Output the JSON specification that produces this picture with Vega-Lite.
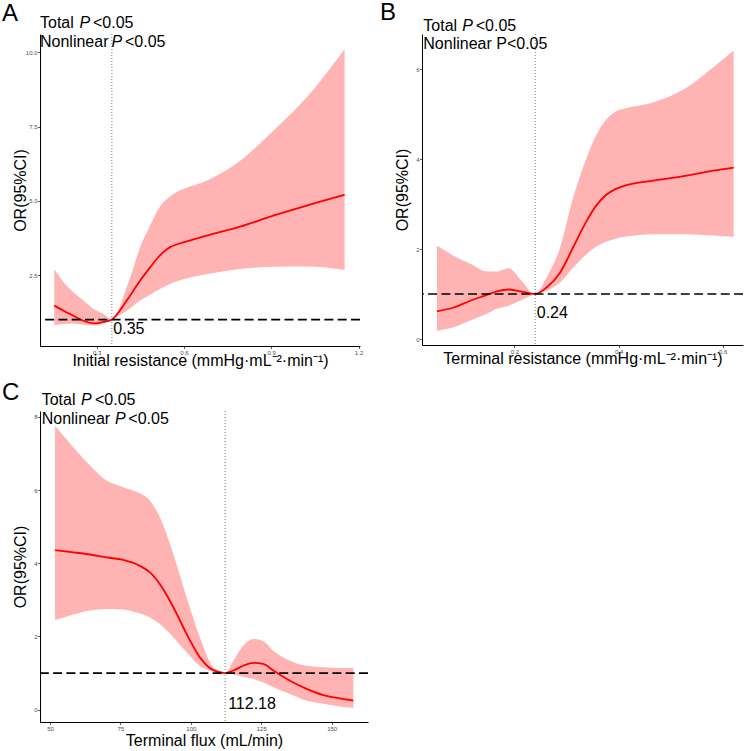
{
  "$schema": "https://vega.github.io/schema/vega-lite/v6.json",
  "padding": {"left": 2, "top": 0, "right": 5, "bottom": 5},
  "config": {
    "font": "Liberation Sans",
    "view": {"stroke": null},
    "axis": {"domainColor": "black", "domainWidth": 1, "tickColor": "#333333", "tickSize": 2.5, "tickWidth": 0.8, "labelFontSize": 6, "labelColor": "#4D4D4D", "labelPadding": 0.5, "grid": false, "titleFontSize": 16, "titleFontWeight": "normal", "titleColor": "black", "labelFont": "Liberation Sans", "titleFont": "Liberation Sans"},
    "axisX": {"titleBaseline": "alphabetic"},
    "axisY": {"titleX": -12, "titleBaseline": "bottom"}
  },
  "datasets": {
    "a": [
      {"x": 0.154, "y": 1.47, "lo": 0.82, "hi": 2.70},
      {"x": 0.186, "y": 1.30, "lo": 0.85, "hi": 2.26},
      {"x": 0.220, "y": 1.13, "lo": 0.87, "hi": 1.92},
      {"x": 0.254, "y": 0.96, "lo": 0.83, "hi": 1.64},
      {"x": 0.2945, "y": 0.87, "lo": 0.80, "hi": 1.32},
      {"x": 0.323, "y": 0.92, "lo": 0.88, "hi": 1.19},
      {"x": 0.352, "y": 1.00, "lo": 1.00, "hi": 1.00},
      {"x": 0.403, "y": 1.64, "lo": 1.30, "hi": 2.09},
      {"x": 0.426, "y": 1.97, "lo": 1.47, "hi": 2.75},
      {"x": 0.449, "y": 2.31, "lo": 1.64, "hi": 3.43},
      {"x": 0.4835, "y": 2.76, "lo": 1.84, "hi": 4.17},
      {"x": 0.506, "y": 3.04, "lo": 1.97, "hi": 4.62},
      {"x": 0.529, "y": 3.27, "lo": 2.09, "hi": 4.95},
      {"x": 0.552, "y": 3.44, "lo": 2.20, "hi": 5.15},
      {"x": 0.575, "y": 3.53, "lo": 2.29, "hi": 5.30},
      {"x": 0.598, "y": 3.60, "lo": 2.36, "hi": 5.40},
      {"x": 0.678, "y": 3.83, "lo": 2.53, "hi": 5.68},
      {"x": 0.793, "y": 4.13, "lo": 2.70, "hi": 6.35},
      {"x": 0.907, "y": 4.50, "lo": 2.78, "hi": 7.36},
      {"x": 1.022, "y": 4.84, "lo": 2.79, "hi": 8.49},
      {"x": 1.152, "y": 5.20, "lo": 2.67, "hi": 10.11}
    ],
    "b": [
      {"x": 0.0512, "y": 0.615, "lo": 0.185, "hi": 2.07},
      {"x": 0.0832, "y": 0.70, "lo": 0.26, "hi": 1.85},
      {"x": 0.1152, "y": 0.85, "lo": 0.41, "hi": 1.67},
      {"x": 0.147, "y": 0.98, "lo": 0.56, "hi": 1.50},
      {"x": 0.166, "y": 1.06, "lo": 0.67, "hi": 1.50},
      {"x": 0.189, "y": 1.10, "lo": 0.74, "hi": 1.57},
      {"x": 0.211, "y": 1.06, "lo": 0.85, "hi": 1.33},
      {"x": 0.240, "y": 1.00, "lo": 1.00, "hi": 1.00},
      {"x": 0.262, "y": 1.15, "lo": 1.07, "hi": 1.37},
      {"x": 0.288, "y": 1.48, "lo": 1.26, "hi": 2.04},
      {"x": 0.313, "y": 2.04, "lo": 1.59, "hi": 3.15},
      {"x": 0.339, "y": 2.63, "lo": 1.89, "hi": 4.04},
      {"x": 0.358, "y": 2.98, "lo": 2.06, "hi": 4.55},
      {"x": 0.376, "y": 3.20, "lo": 2.16, "hi": 4.87},
      {"x": 0.394, "y": 3.33, "lo": 2.23, "hi": 5.05},
      {"x": 0.412, "y": 3.41, "lo": 2.27, "hi": 5.12},
      {"x": 0.467, "y": 3.52, "lo": 2.33, "hi": 5.26},
      {"x": 0.531, "y": 3.63, "lo": 2.33, "hi": 5.59},
      {"x": 0.582, "y": 3.74, "lo": 2.30, "hi": 6.04},
      {"x": 0.621, "y": 3.81, "lo": 2.27, "hi": 6.41}
    ],
    "c": [
      {"x": 51.8, "y": 4.36, "lo": 2.45, "hi": 7.76},
      {"x": 58.3, "y": 4.30, "lo": 2.60, "hi": 7.17},
      {"x": 64.2, "y": 4.24, "lo": 2.71, "hi": 6.67},
      {"x": 70.1, "y": 4.16, "lo": 2.75, "hi": 6.26},
      {"x": 76.0, "y": 4.09, "lo": 2.74, "hi": 6.08},
      {"x": 81.9, "y": 3.93, "lo": 2.63, "hi": 5.91},
      {"x": 85.5, "y": 3.75, "lo": 2.52, "hi": 5.71},
      {"x": 89.0, "y": 3.43, "lo": 2.34, "hi": 5.26},
      {"x": 93.8, "y": 2.80, "lo": 1.98, "hi": 4.25},
      {"x": 98.5, "y": 2.07, "lo": 1.57, "hi": 3.07},
      {"x": 103.2, "y": 1.43, "lo": 1.20, "hi": 1.98},
      {"x": 108.0, "y": 1.08, "lo": 1.04, "hi": 1.16},
      {"x": 112.18, "y": 1.00, "lo": 1.00, "hi": 1.00},
      {"x": 115.1, "y": 1.07, "lo": 0.96, "hi": 1.34},
      {"x": 118.6, "y": 1.20, "lo": 0.90, "hi": 1.75},
      {"x": 122.2, "y": 1.28, "lo": 0.84, "hi": 1.93},
      {"x": 125.7, "y": 1.25, "lo": 0.75, "hi": 1.87},
      {"x": 129.3, "y": 1.07, "lo": 0.61, "hi": 1.61},
      {"x": 135.2, "y": 0.79, "lo": 0.43, "hi": 1.34},
      {"x": 141.1, "y": 0.57, "lo": 0.25, "hi": 1.20},
      {"x": 147.0, "y": 0.40, "lo": 0.16, "hi": 1.16},
      {"x": 152.9, "y": 0.31, "lo": 0.09, "hi": 1.14},
      {"x": 157.7, "y": 0.25, "lo": 0.05, "hi": 1.14}
    ]
  },
  "columns": 2,
  "spacing": {"row": 65, "column": 54},
  "bounds": "flush",
  "concat": [
    {
      "width": 320, "height": 312,
      "layer": [
        {"data": {"name": "a"}, "mark": {"type": "area", "color": "#FFB3B3", "opacity": 1, "interpolate": "monotone"},
         "encoding": {
           "x": {"field": "x", "type": "quantitative", "scale": {"domain": [0.105, 1.205], "nice": false, "zero": false}, "axis": {"values": [0.3, 0.6, 0.9, 1.2], "format": ".1f", "title": "Initial resistance (mmHg·mL⁻²·min⁻¹)", "titleY": 19}},
           "y": {"field": "lo", "type": "quantitative", "scale": {"domain": [0.11, 10.62], "nice": false, "zero": false}, "axis": {"values": [2.5, 5, 7.5, 10], "format": ".1f", "title": "OR(95%CI)"}},
           "y2": {"field": "hi"}}},
        {"data": {"name": "a"}, "mark": {"type": "line", "color": "#FF0000", "strokeWidth": 1.8, "interpolate": "monotone"},
         "encoding": {"x": {"field": "x", "type": "quantitative", "title": "Initial resistance (mmHg·mL⁻²·min⁻¹)"}, "y": {"field": "y", "type": "quantitative", "title": "OR(95%CI)"}}},
        {"data": {"values": [{}]}, "mark": {"type": "rule", "color": "black", "strokeWidth": 1.6, "strokeDash": [9, 4.3]}, "encoding": {"y": {"datum": 1}}},
        {"data": {"values": [{}]}, "mark": {"type": "rule", "color": "#555555", "strokeWidth": 0.8, "strokeDash": [1, 2]}, "encoding": {"x": {"datum": 0.352}}},
        {"data": {"values": [{}]}, "mark": {"type": "text", "text": "0.35", "align": "left", "baseline": "alphabetic", "fontSize": 16, "dx": 1.5}, "encoding": {"x": {"datum": 0.352}, "y": {"datum": 0.515}}},
        {"data": {"values": [{}]}, "mark": {"type": "text", "text": "A", "align": "left", "baseline": "alphabetic", "fontSize": 24, "dx": -38}, "encoding": {"x": {"datum": 0.105}, "y": {"datum": 11.05}}},
        {"data": {"values": [{}]}, "mark": {"type": "text", "text": "Total", "align": "left", "baseline": "alphabetic", "fontSize": 16, "dx": 0}, "encoding": {"x": {"datum": 0.105}, "y": {"datum": 10.82}}},
        {"data": {"values": [{}]}, "mark": {"type": "text", "text": "P", "fontStyle": "italic", "align": "left", "baseline": "alphabetic", "fontSize": 16, "dx": 39.5}, "encoding": {"x": {"datum": 0.105}, "y": {"datum": 10.82}}},
        {"data": {"values": [{}]}, "mark": {"type": "text", "text": "<0.05", "align": "left", "baseline": "alphabetic", "fontSize": 16, "dx": 53}, "encoding": {"x": {"datum": 0.105}, "y": {"datum": 10.82}}},
        {"data": {"values": [{}]}, "mark": {"type": "text", "text": "Nonlinear", "align": "left", "baseline": "alphabetic", "fontSize": 16, "dx": 0}, "encoding": {"x": {"datum": 0.105}, "y": {"datum": 10.18}}},
        {"data": {"values": [{}]}, "mark": {"type": "text", "text": "P", "fontStyle": "italic", "align": "left", "baseline": "alphabetic", "fontSize": 16, "dx": 71.5}, "encoding": {"x": {"datum": 0.105}, "y": {"datum": 10.18}}},
        {"data": {"values": [{}]}, "mark": {"type": "text", "text": "<0.05", "align": "left", "baseline": "alphabetic", "fontSize": 16, "dx": 85}, "encoding": {"x": {"datum": 0.105}, "y": {"datum": 10.18}}}
      ]
    },
    {
      "width": 321, "height": 311,
      "layer": [
        {"data": {"name": "b"}, "mark": {"type": "area", "color": "#FFB3B3", "opacity": 1, "interpolate": "monotone"},
         "encoding": {
           "x": {"field": "x", "type": "quantitative", "scale": {"domain": [0.0225, 0.639], "nice": false, "zero": false}, "axis": {"values": [0.2, 0.4, 0.6], "format": ".1f", "title": "Terminal resistance (mmHg·mL⁻²·min⁻¹)", "titleY": 18}},
           "y": {"field": "lo", "type": "quantitative", "scale": {"domain": [-0.133, 6.778], "nice": false, "zero": false}, "axis": {"values": [0, 2, 4, 6], "format": "d", "title": "OR(95%CI)"}},
           "y2": {"field": "hi"}}},
        {"data": {"name": "b"}, "mark": {"type": "line", "color": "#FF0000", "strokeWidth": 1.8, "interpolate": "monotone"},
         "encoding": {"x": {"field": "x", "type": "quantitative", "title": "Terminal resistance (mmHg·mL⁻²·min⁻¹)"}, "y": {"field": "y", "type": "quantitative", "title": "OR(95%CI)"}}},
        {"data": {"values": [{}]}, "mark": {"type": "rule", "color": "black", "strokeWidth": 1.6, "strokeDash": [9, 4.3]}, "encoding": {"y": {"datum": 1}}},
        {"data": {"values": [{}]}, "mark": {"type": "rule", "color": "#555555", "strokeWidth": 0.8, "strokeDash": [1, 2]}, "encoding": {"x": {"datum": 0.24}}},
        {"data": {"values": [{}]}, "mark": {"type": "text", "text": "0.24", "align": "left", "baseline": "alphabetic", "fontSize": 16, "dx": 1.5}, "encoding": {"x": {"datum": 0.24}, "y": {"datum": 0.47}}},
        {"data": {"values": [{}]}, "mark": {"type": "text", "text": "B", "align": "left", "baseline": "alphabetic", "fontSize": 24, "dx": -42}, "encoding": {"x": {"datum": 0.0225}, "y": {"datum": 7.09}}},
        {"data": {"values": [{}]}, "mark": {"type": "text", "text": "Total", "align": "left", "baseline": "alphabetic", "fontSize": 16, "dx": 1.3}, "encoding": {"x": {"datum": 0.0225}, "y": {"datum": 6.85}}},
        {"data": {"values": [{}]}, "mark": {"type": "text", "text": "P", "fontStyle": "italic", "align": "left", "baseline": "alphabetic", "fontSize": 16, "dx": 40.3}, "encoding": {"x": {"datum": 0.0225}, "y": {"datum": 6.85}}},
        {"data": {"values": [{}]}, "mark": {"type": "text", "text": "<0.05", "align": "left", "baseline": "alphabetic", "fontSize": 16, "dx": 53.7}, "encoding": {"x": {"datum": 0.0225}, "y": {"datum": 6.85}}},
        {"data": {"values": [{}]}, "mark": {"type": "text", "text": "Nonlinear P<0.05", "align": "left", "baseline": "alphabetic", "fontSize": 16, "dx": 1.3}, "encoding": {"x": {"datum": 0.0225}, "y": {"datum": 6.44}}}
      ]
    },
    {
      "width": 328, "height": 311,
      "layer": [
        {"data": {"name": "c"}, "mark": {"type": "area", "color": "#FFB3B3", "opacity": 1, "interpolate": "monotone"},
         "encoding": {
           "x": {"field": "x", "type": "quantitative", "scale": {"domain": [46.45, 162.9], "nice": false, "zero": false}, "axis": {"values": [50, 75, 100, 125, 150], "format": "d", "title": "Terminal flux (mL/min)", "titleY": 23}},
           "y": {"field": "lo", "type": "quantitative", "scale": {"domain": [-0.336, 8.16], "nice": false, "zero": false}, "axis": {"values": [0, 2, 4, 6, 8], "format": "d", "title": "OR(95%CI)"}},
           "y2": {"field": "hi"}}},
        {"data": {"name": "c"}, "mark": {"type": "line", "color": "#FF0000", "strokeWidth": 1.8, "interpolate": "monotone"},
         "encoding": {"x": {"field": "x", "type": "quantitative", "title": "Terminal flux (mL/min)"}, "y": {"field": "y", "type": "quantitative", "title": "OR(95%CI)"}}},
        {"data": {"values": [{}]}, "mark": {"type": "rule", "color": "black", "strokeWidth": 1.6, "strokeDash": [9, 4.3]}, "encoding": {"y": {"datum": 1}}},
        {"data": {"values": [{}]}, "mark": {"type": "rule", "color": "#555555", "strokeWidth": 0.8, "strokeDash": [1, 2]}, "encoding": {"x": {"datum": 112.18}}},
        {"data": {"values": [{}]}, "mark": {"type": "text", "text": "112.18", "align": "left", "baseline": "alphabetic", "fontSize": 16, "dx": 3}, "encoding": {"x": {"datum": 112.18}, "y": {"datum": 0.02}}},
        {"data": {"values": [{}]}, "mark": {"type": "text", "text": "C", "align": "left", "baseline": "alphabetic", "fontSize": 24, "dx": -38}, "encoding": {"x": {"datum": 46.45}, "y": {"datum": 8.46}}},
        {"data": {"values": [{}]}, "mark": {"type": "text", "text": "Total", "align": "left", "baseline": "alphabetic", "fontSize": 16, "dx": 1.7}, "encoding": {"x": {"datum": 46.45}, "y": {"datum": 8.33}}},
        {"data": {"values": [{}]}, "mark": {"type": "text", "text": "P", "fontStyle": "italic", "align": "left", "baseline": "alphabetic", "fontSize": 16, "dx": 41}, "encoding": {"x": {"datum": 46.45}, "y": {"datum": 8.33}}},
        {"data": {"values": [{}]}, "mark": {"type": "text", "text": "<0.05", "align": "left", "baseline": "alphabetic", "fontSize": 16, "dx": 55}, "encoding": {"x": {"datum": 46.45}, "y": {"datum": 8.33}}},
        {"data": {"values": [{}]}, "mark": {"type": "text", "text": "Nonlinear", "align": "left", "baseline": "alphabetic", "fontSize": 16, "dx": 1.7}, "encoding": {"x": {"datum": 46.45}, "y": {"datum": 7.81}}},
        {"data": {"values": [{}]}, "mark": {"type": "text", "text": "P", "fontStyle": "italic", "align": "left", "baseline": "alphabetic", "fontSize": 16, "dx": 75}, "encoding": {"x": {"datum": 46.45}, "y": {"datum": 7.81}}},
        {"data": {"values": [{}]}, "mark": {"type": "text", "text": "<0.05", "align": "left", "baseline": "alphabetic", "fontSize": 16, "dx": 88.3}, "encoding": {"x": {"datum": 46.45}, "y": {"datum": 7.81}}}
      ]
    }
  ]
}
